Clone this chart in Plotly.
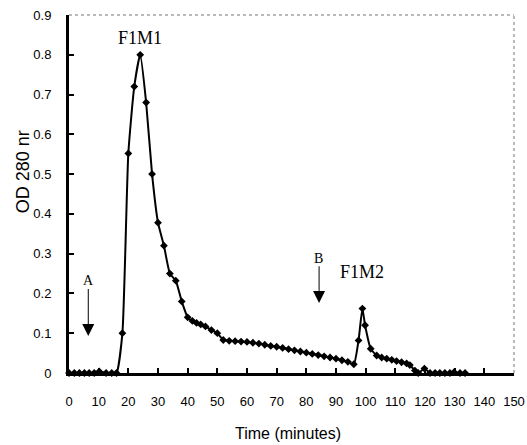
import plotly.graph_objects as go

time_min = [0, 1.8, 3.5, 5.2, 6.8, 8.5, 10.2, 12.5, 14.4, 16,
            18, 20, 22, 24, 26, 28, 30, 32, 34, 36, 38, 40,
            41.6, 43, 44.4, 46, 48, 50,
            52, 54, 56, 58, 60, 62, 64, 66, 68, 70, 72, 74, 76, 78, 80, 82, 84, 86, 88, 90, 92, 94, 96,
            97.6, 98.9, 99.8, 101.7, 103.7, 105.4, 107.1, 108.8, 110.4, 112.1, 113.8, 114.9, 116.6, 117.7,
            119.8, 121.7, 123.4, 125, 126.7, 128.4, 129.8, 131.8, 133.5]
od280 = [0, 0, 0, 0, 0, 0, 0.004, 0, 0, 0,
         0.10, 0.552, 0.72, 0.80, 0.68, 0.50, 0.378, 0.32, 0.25, 0.232, 0.18, 0.14,
         0.131, 0.126, 0.122, 0.117, 0.108, 0.10,
         0.083, 0.081, 0.080, 0.079, 0.078, 0.076, 0.074, 0.071, 0.068, 0.066, 0.063, 0.060, 0.057, 0.054,
         0.051, 0.048, 0.045, 0.042, 0.039, 0.036, 0.032, 0.028, 0.022,
         0.082, 0.162, 0.12, 0.061, 0.044, 0.039, 0.036, 0.033, 0.030, 0.027, 0.024, 0.020, 0.006, 0,
         0.011, 0, 0, 0, 0, 0, 0.002, 0, 0]

x_ticks = list(range(0, 151, 10))
y_ticks = [0, 0.1, 0.2, 0.3, 0.4, 0.5, 0.6, 0.7, 0.8, 0.9]
y_tick_labels = ["0", "0.1", "0.2", "0.3", "0.4", "0.5", "0.6", "0.7", "0.8", "0.9"]

sans = "Liberation Sans, Arial, sans-serif"
serif = "Liberation Serif, Times New Roman, serif"
tick_font = dict(family=sans, size=13, color="black")

fig = go.Figure()
fig.add_trace(go.Scatter(
    x=time_min, y=od280, mode="lines+markers",
    line=dict(color="black", width=2, shape="spline", smoothing=0.5),
    marker=dict(symbol="diamond", size=6, color="black"),
    showlegend=False, cliponaxis=False,
))

# frame (dotted top and right)
fig.add_shape(type="line", xref="paper", yref="paper", x0=0, x1=1, y0=1, y1=1,
              line=dict(color="#777", width=1, dash="dot"))
fig.add_shape(type="line", xref="paper", yref="paper", x0=1, x1=1, y0=0, y1=1,
              line=dict(color="#777", width=1, dash="dot"))

# labels
fig.add_annotation(x=23.9, y=0.841, text="F1M1", showarrow=False,
                   font=dict(family=serif, size=18, color="black"))
fig.add_annotation(x=98.9, y=0.254, text="F1M2", showarrow=False,
                   font=dict(family=serif, size=18, color="black"))
fig.add_annotation(x=6.5, y=0.232, text="A", showarrow=False,
                   font=dict(family=serif, size=14, color="black"))
fig.add_annotation(x=84.1, y=0.289, text="B", showarrow=False,
                   font=dict(family=serif, size=14, color="black"))
# arrows
fig.add_annotation(x=6.5, y=0.093, ax=6.5, ay=0.215, axref="x", ayref="y", text="",
                   showarrow=True, arrowhead=2, arrowsize=2.4, arrowwidth=1, arrowcolor="black")
fig.add_annotation(x=84.3, y=0.176, ax=84.3, ay=0.272, axref="x", ayref="y", text="",
                   showarrow=True, arrowhead=2, arrowsize=2.4, arrowwidth=1, arrowcolor="black")

# axis titles
fig.add_annotation(xref="paper", yref="paper", x=0.492, y=-0.170, text="Time (minutes)",
                   xanchor="center", yanchor="middle",
                   showarrow=False, font=dict(family=sans, size=16, color="black"))
fig.add_annotation(xref="paper", yref="paper", x=-0.103, y=0.561, text="OD 280 nr", textangle=-90,
                   xanchor="center", yanchor="middle",
                   showarrow=False, font=dict(family=sans, size=18, color="black"))

fig.update_xaxes(range=[0, 150], tickvals=x_ticks, ticks="inside", ticklen=5, tickwidth=2,
                 tickcolor="black", showline=True, linecolor="black", linewidth=3,
                 showgrid=False, zeroline=False, tickfont=tick_font, ticklabelstandoff=14,
                 automargin=False, ticklabeloverflow="allow")
fig.update_yaxes(range=[0, 0.9], tickvals=y_ticks, ticktext=y_tick_labels, ticks="inside",
                 ticklen=5, tickwidth=2, tickcolor="black", showline=True, linecolor="black",
                 linewidth=3, showgrid=False, zeroline=False, tickfont=tick_font, ticklabelstandoff=12,
                 automargin=False, ticklabeloverflow="allow")

fig.update_layout(width=527, height=445, margin=dict(l=69, r=13, t=15, b=72),
                  plot_bgcolor="white", paper_bgcolor="white")

fig.write_html("out.html", config={"displayModeBar": False},
               post_script="document.body.style.margin='0';document.body.style.overflow='hidden';")
